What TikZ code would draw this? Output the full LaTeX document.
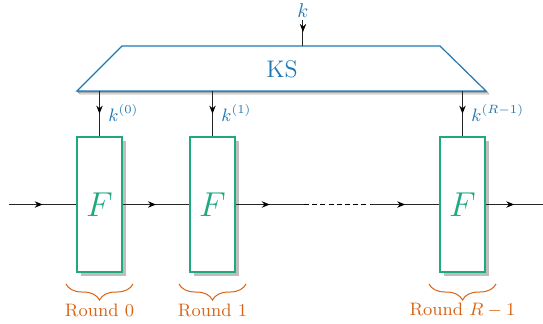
\documentclass[tikz,border=0pt]{standalone}
\usetikzlibrary{arrows.meta,decorations.markings,decorations.pathreplacing,shadows}

\definecolor{ksblue}{RGB}{31,120,180}
\definecolor{fgreen}{RGB}{32,168,128}
\definecolor{rorange}{RGB}{217,100,20}
\definecolor{shade}{RGB}{190,190,190}

\tikzset{
  midarrow/.style={draw=black!85, line width=0.5pt,
    postaction={decorate},
    decoration={markings, mark=at position #1 with {\arrow{Stealth[length=4pt,width=3.2pt,black]}}}},
  midarrow/.default=0.5,
  roundbox/.style={draw=fgreen, line width=0.6pt, fill=white,
    minimum width=22.5pt, minimum height=67.5pt, inner sep=0pt,
    font=\LARGE, text=fgreen,
    drop shadow={shadow xshift=2pt, shadow yshift=-2pt, fill=shade, opacity=1}},
  keylabel/.style={text=ksblue, font=\small, anchor=west, inner sep=1pt},
  roundbrace/.style={draw=rorange, line width=0.5pt,
    decorate, decoration={brace, mirror, amplitude=8pt}},
  roundlabel/.style={text=rorange, font=\small, inner sep=0pt},
}

\begin{document}
\begin{tikzpicture}[x=0.5pt, y=-0.5pt]
  \useasboundingbox (0,0) rectangle (543,323);

  % key schedule trapezoid with its shadow
  \fill[shade] (80,94) -- (489,94) -- (486,91) -- (77,91) -- cycle;
  \draw[ksblue, line width=0.6pt, fill=white]
    (122,46) -- (440,46) -- (486,91) -- (77,91) -- cycle;
  \node[text=ksblue, font=\large] (ks) at (282,69) {KS};

  % master key input
  \node[text=ksblue, inner sep=1pt] (k) at (303,11) {$k$};
  \coordinate (kin) at (303,46);
  \path[midarrow=0.45] (k.south) -- (kin);

  % round functions
  \node[roundbox] (f0) at (99.5,204.5) {$F$};
  \node[roundbox] (f1) at (212.5,204.5) {$F$};
  \node[roundbox] (f2) at (462.5,204.5) {$F$};

  % round keys
  \coordinate (ks0) at (99.5,91);
  \coordinate (ks1) at (212.5,91);
  \coordinate (ks2) at (462.5,91);
  \path[midarrow=0.5] (ks0) -- (f0.north);
  \path[midarrow=0.5] (ks1) -- (f1.north);
  \path[midarrow=0.5] (ks2) -- (f2.north);
  \node[keylabel] (k0) at (106,113) {$k^{(0)}$};
  \node[keylabel] (k1) at (219,113) {$k^{(1)}$};
  \node[keylabel] (k2) at (469,113) {$k^{(R-1)}$};

  % data path
  \coordinate (in) at (9,204.5);
  \coordinate (d0) at (304,204.5);
  \coordinate (d1) at (371,204.5);
  \coordinate (out) at (543,204.5);
  \path[midarrow=0.5] (in) -- (f0.west);
  \path[midarrow=0.5] (f0.east) -- (f1.west);
  \path[midarrow=0.5] (f1.east) -- (d0);
  \draw[black, line width=0.8pt, dash pattern=on 2.5pt off 1.6pt] (d0) -- (d1);
  \path[midarrow=0.5] (d1) -- (f2.west);
  \path[midarrow=0.5] (f2.east) -- (out);

  % round braces and labels
  \draw[roundbrace] (66,284) -- (133,284);
  \draw[roundbrace] (179,284) -- (246,284);
  \draw[roundbrace] (429,284) -- (496,284);
  \node[roundlabel] (r0) at (99.5,310) {Round $0$};
  \node[roundlabel] (r1) at (212.5,310) {Round $1$};
  \node[roundlabel] (r2) at (462.5,310) {Round $R-1$};
\end{tikzpicture}
\end{document}
